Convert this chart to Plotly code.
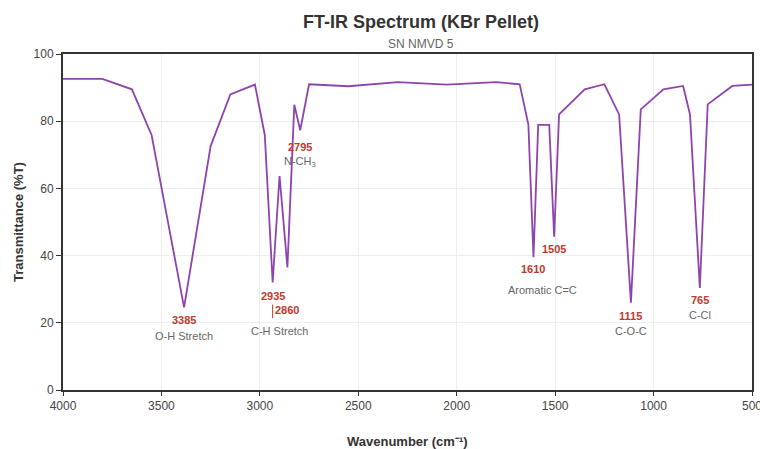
import plotly.graph_objects as go

# Spectrum data (wavenumber cm^-1, %T)
wavenumber = [4000, 3800, 3650, 3550, 3385, 3250, 3150, 3025, 2975, 2935, 2900, 2860,
              2825, 2795, 2750, 2550, 2300, 2050, 1800, 1680, 1636, 1610, 1586, 1530,
              1505, 1480, 1350, 1250, 1175, 1115, 1065, 950, 850, 815, 765, 725, 600, 500]
transmittance = [92.6, 92.6, 89.5, 75.9, 24.6, 72.6, 88.0, 90.9, 75.9, 32.0, 63.7, 36.5,
                 84.9, 77.3, 91.0, 90.4, 91.6, 90.9, 91.6, 91.0, 79.0, 39.5, 78.9, 78.9,
                 45.6, 82.0, 89.5, 91.0, 82.0, 26.0, 83.5, 89.5, 90.5, 82.0, 30.4, 85.0,
                 90.5, 90.9]

# Peak labels
peak_text = ["3385", "2935", "2860", "2795", "1610", "1505", "1115", "765"]
peak_x = [3385, 2935, 2860, 2797, 1610, 1505, 1115, 765]
peak_y = [20.8, 28.0, 23.8, 72.3, 36.0, 42.0, 22.0, 26.8]

group_text = ["O-H Stretch", "C-H Stretch", "N-CH<sub>3</sub>", "Aromatic C=C", "C-O-C", "C-Cl"]
group_x = [3385, 2900, 2795, 1562, 1115, 765]
group_y = [16.1, 17.6, 67.9, 29.8, 17.6, 22.3]

FONT = "Liberation Sans, Arial, sans-serif"
RED = "#c0392b"
GREY = "#666666"
PURPLE = "#8e44ad"

fig = go.Figure()
fig.add_trace(go.Scatter(x=wavenumber, y=transmittance, mode="lines",
                         line=dict(color=PURPLE, width=1.8), hoverinfo="skip",
                         showlegend=False))

annotations = []
for t, x, y in zip(peak_text, peak_x, peak_y):
    annotations.append(dict(x=x, y=y, xref="x", yref="y", text="<b>%s</b>" % t,
                            showarrow=False, font=dict(family=FONT, size=11, color=RED)))
for t, x, y in zip(group_text, group_x, group_y):
    annotations.append(dict(x=x, y=y, xref="x", yref="y", text=t,
                            showarrow=False, font=dict(family=FONT, size=11, color=GREY)))
# small red connector line near 2935/2860
annotations.append(dict(x=2935, y=21.4, xref="x", yref="y", text="", showarrow=True,
                        arrowhead=0, arrowwidth=1, arrowcolor=RED, ax=0, ay=-15,
                        standoff=0, startstandoff=0))

# Titles
annotations.append(dict(x=0.52, y=1.0, xref="paper", yref="paper", yanchor="middle",
                        yshift=32, text="<b>FT-IR Spectrum (KBr Pellet)</b>", showarrow=False,
                        font=dict(family=FONT, size=18, color="#333333")))
annotations.append(dict(x=0.52, y=1.0, xref="paper", yref="paper", yanchor="middle",
                        yshift=10, text="SN NMVD 5", showarrow=False,
                        font=dict(family=FONT, size=12, color="#666666")))
annotations.append(dict(x=0.5, y=0.0, xref="paper", yref="paper", yanchor="middle",
                        yshift=-51, text="<b>Wavenumber (cm⁻¹)</b>", showarrow=False,
                        font=dict(family=FONT, size=13, color="#333333")))
annotations.append(dict(x=0.0, y=0.5, xref="paper", yref="paper", xanchor="center",
                        yanchor="middle", xshift=-45, textangle=-90,
                        text="<b>Transmittance (%T)</b>", showarrow=False,
                        font=dict(family=FONT, size=13, color="#333333")))

fig.update_layout(
    width=760, height=449,
    margin=dict(l=63, r=8, t=54, b=59, autoexpand=False),
    paper_bgcolor="white", plot_bgcolor="white",
    font=dict(family=FONT, size=12, color="#444444"),
    annotations=annotations,
    xaxis=dict(range=[4000, 500], tickvals=[4000, 3500, 3000, 2500, 2000, 1500, 1000, 500],
               showgrid=True, gridcolor="#eeeeee", gridwidth=1, automargin=False,
               ticklabeloverflow="allow",
               showline=True, linecolor="#333333", linewidth=2, mirror=True,
               ticks="outside", ticklen=4, tickcolor="#333333", zeroline=False),
    yaxis=dict(range=[0, 100], tickvals=[0, 20, 40, 60, 80, 100],
               showgrid=True, gridcolor="#eeeeee", gridwidth=1, automargin=False,
               showline=True, linecolor="#333333", linewidth=2, mirror=True,
               ticks="outside", ticklen=5, tickcolor="#333333", zeroline=False),
)

fig.write_html("out.html", config={"displayModeBar": False},
               post_script="document.body.style.margin='0';document.body.style.overflow='hidden';")
